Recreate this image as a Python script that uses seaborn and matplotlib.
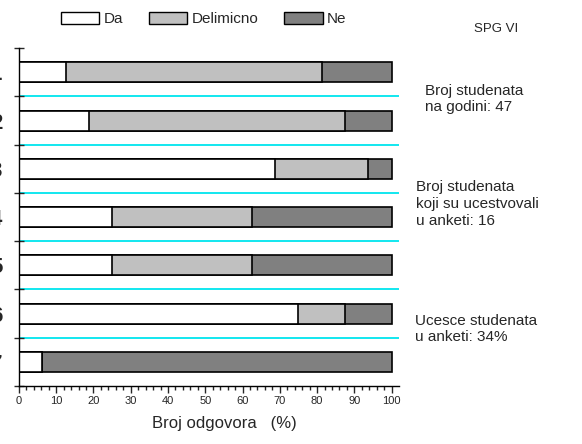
import pandas as pd
import numpy as np
import matplotlib
matplotlib.use('Agg')
import matplotlib.pyplot as plt
from matplotlib.patches import Patch
import seaborn as sns

# Data (percent of answers per question)
pitanja = ['1', '2', '3', '4', '5', '6', '7']
da = [12.5, 18.75, 68.75, 25.0, 25.0, 75.0, 6.25]
delimicno = [68.75, 68.75, 25.0, 37.5, 37.5, 12.5, 0.0]
ne = [18.75, 12.5, 6.25, 37.5, 37.5, 12.5, 93.75]

df = pd.DataFrame({'Pitanje': pitanja, 'Da': da, 'Delimicno': delimicno, 'Ne': ne})
df['DaDel'] = df['Da'] + df['Delimicno']
df['Ukupno'] = df['DaDel'] + df['Ne']

sns.set_style('white')
plt.rcParams['font.family'] = ['Liberation Sans', 'DejaVu Sans']

fig = plt.figure(figsize=(5.82, 4.44), dpi=100)
ax = fig.add_axes([0.0326, 0.1306, 0.653, 0.761])

# Stacked bars drawn as cumulative layers
sns.barplot(data=df, y='Pitanje', x='Ukupno', color='#808080', edgecolor='black',
            linewidth=1.2, width=0.414, orient='h', ax=ax, saturation=1)
sns.barplot(data=df, y='Pitanje', x='DaDel', color='#c0c0c0', edgecolor='black',
            linewidth=1.2, width=0.414, orient='h', ax=ax, saturation=1)
sns.barplot(data=df, y='Pitanje', x='Da', color='white', edgecolor='black',
            linewidth=1.2, width=0.414, orient='h', ax=ax, saturation=1)

# Cyan separators between rows
for y in np.arange(0.5, len(pitanja) - 1, 1.0):
    ax.axhline(y, color='#00e5ee', lw=1.3, zorder=0.5)

ax.set_xlim(0, 102)
ax.set_ylim(len(pitanja) - 0.5, -0.5)

ax.set_xticks(np.arange(0, 101, 10))
ax.set_xticks(np.arange(0, 101, 2), minor=True)
ax.tick_params(axis='x', which='major', direction='out', length=5, width=1,
               labelsize=8, pad=2, bottom=True)
ax.tick_params(axis='x', which='minor', direction='out', length=3, width=1, bottom=True)

ax.set_yticks(range(len(pitanja)))
ax.set_yticklabels(pitanja, fontsize=16, fontweight='bold')
ax.set_yticks(np.arange(-0.5, len(pitanja), 1.0), minor=True)
ax.tick_params(axis='y', which='major', length=0, pad=12, left=True)
ax.tick_params(axis='y', which='minor', direction='inout', length=7, width=1, left=True)

for s in ['top', 'right']:
    ax.spines[s].set_visible(False)
for s in ['left', 'bottom']:
    ax.spines[s].set_color('black')
    ax.spines[s].set_linewidth(1)

ax.set_ylabel('')
ax.set_xlabel('Broj odgovora   (%)', fontsize=12)
ax.xaxis.set_label_coords(0.54, -0.09)

handles = [Patch(facecolor='white', edgecolor='black', label='Da'),
           Patch(facecolor='#c0c0c0', edgecolor='black', label='Delimicno'),
           Patch(facecolor='#808080', edgecolor='black', label='Ne')]
fig.legend(handles=handles, loc='center', bbox_to_anchor=(0.35, 0.957), ncol=3,
           frameon=False, fontsize=11, handlelength=2.5, handleheight=0.9,
           handletextpad=0.3, columnspacing=1.7)

fig.text(0.852, 0.935, 'SPG VI', fontsize=9.5, ha='center', va='center')
fig.text(0.73, 0.777, 'Broj studenata\nna godini: 47', fontsize=11, ha='left',
         va='center', linespacing=1.25)
fig.text(0.715, 0.541, 'Broj studenata\nkoji su ucestvovali\nu anketi: 16', fontsize=11,
         ha='left', va='center', linespacing=1.25)
fig.text(0.713, 0.259, 'Ucesce studenata\nu anketi: 34%', fontsize=11, ha='left',
         va='center', linespacing=1.25)

fig.savefig('out.png', dpi=100)
